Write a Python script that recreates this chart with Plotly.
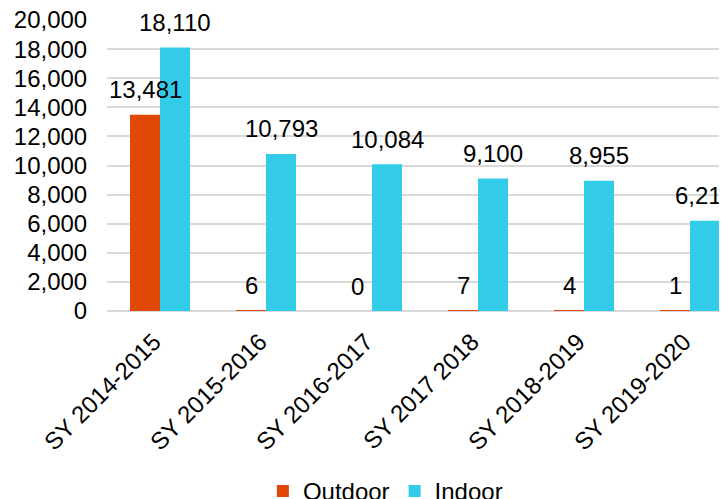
import plotly.graph_objects as go

categories = ["SY 2014-2015", "SY 2015-2016", "SY 2016-2017",
              "SY 2017 2018", "SY 2018-2019", "SY 2019-2020"]
outdoor = [13481, 6, 0, 7, 4, 1]
indoor = [18110, 10793, 10084, 9100, 8955, 6210]

orange = "#E04806"
cyan = "#33CCE8"
font = "Liberation Sans, Arial, sans-serif"

fig = go.Figure()
fig.add_trace(go.Bar(x=categories, y=outdoor, name="Outdoor",
                     marker=dict(color=orange, line=dict(width=0))))
fig.add_trace(go.Bar(x=categories, y=indoor, name="Indoor",
                     marker=dict(color=cyan, line=dict(width=0))))

# data labels sit well above the bar ends, Excel style
for vals, shift in ((outdoor, -15), (indoor, 15)):
    for cat, v in zip(categories, vals):
        fig.add_annotation(x=cat, y=v, text=f"{v:,}", showarrow=False,
                           xshift=shift, yshift=25, yanchor="middle",
                           font=dict(size=24, color="#000000", family=font))

# page body has an 8px margin, so the figure is 8px smaller than the window
fig.update_layout(
    width=719, height=491,
    margin=dict(l=99, r=0, t=12, b=188, autoexpand=False),
    barmode="group", bargap=0.434, bargroupgap=0,
    plot_bgcolor="white", paper_bgcolor="white",
    font=dict(family=font, size=24, color="#000000"),
    showlegend=True,
    legend=dict(orientation="h", x=0.449, xanchor="center",
                y=-0.62, yanchor="middle", font=dict(size=24),
                itemwidth=30, tracegroupgap=0),
)
fig.update_xaxes(range=[-0.5, 5.349], tickangle=-45, showgrid=False,
                 showline=False, ticks="", tickfont=dict(size=24),
                 automargin=False, ticklabelstandoff=11, ticklabelshift=-6)
fig.update_yaxes(range=[0, 20000], dtick=2000, tickformat=",",
                 showgrid=True, gridcolor="#D9D9D9", gridwidth=1.5,
                 zeroline=True, zerolinecolor="#D9D9D9", zerolinewidth=1.5,
                 ticks="outside", ticklen=14, tickcolor="rgba(0,0,0,0)",
                 tickfont=dict(size=24), automargin=False,
                 ticklabeloverflow="allow")

fig.write_html("out.html")
